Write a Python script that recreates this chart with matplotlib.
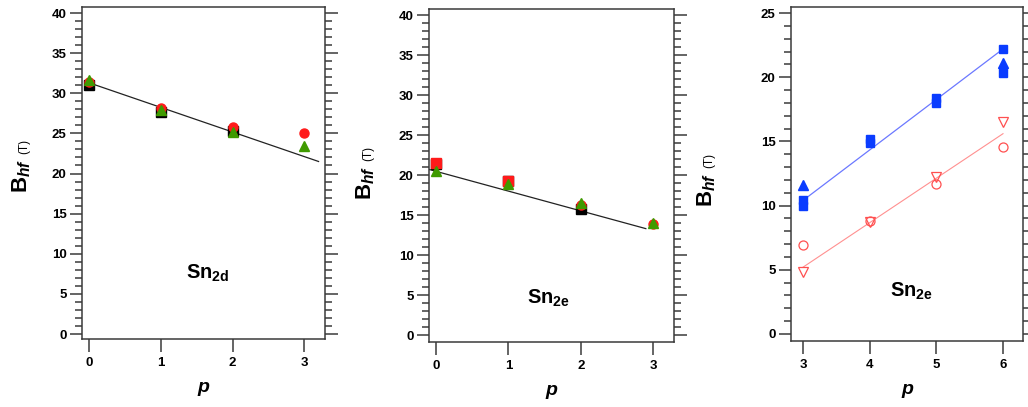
import matplotlib
matplotlib.use("Agg")
import matplotlib.pyplot as plt
from matplotlib.ticker import MultipleLocator

plt.rcParams['font.family'] = ['Liberation Sans', 'DejaVu Sans']
plt.rcParams['font.weight'] = 'bold'
plt.rcParams['mathtext.fontset'] = 'custom'
plt.rcParams['mathtext.rm'] = 'Liberation Sans:bold'
plt.rcParams['mathtext.bf'] = 'Liberation Sans:bold'
plt.rcParams['mathtext.it'] = 'Liberation Sans:italic:bold'

# Sn2d site, p = 0..3
p_d = [0, 1, 2, 3]
sn2d_black = [31.0, 27.7, 25.3]
sn2d_red = [31.4, 28.2, 25.8, 25.0]
sn2d_green = [31.6, 27.9, 25.2, 23.4]
sn2d_fit_p = [0.0, 3.2]
sn2d_fit_b = [31.3, 21.5]

# Sn2e site, p = 0..3
p_e = [0, 1, 2, 3]
sn2e_black = [21.4, 19.3, 15.8]
sn2e_red_sq = [21.5, 19.2]
sn2e_red_ci = [16.3, 13.9]
sn2e_green = [20.5, 18.9, 16.5, 14.0]
sn2e_fit_p = [-0.1, 2.9]
sn2e_fit_b = [20.7, 13.3]

# Sn2e site, p = 3..6
p_hi = [3, 4, 5, 6]
blue_sq_a = [10.0, 14.9, 18.0, 22.2]
blue_sq_b = [10.4, 15.2, 18.4, 20.3]
blue_tri = [11.6, 21.1]
blue_tri_p = [3, 6]
red_circle = [6.9, 8.8, 11.7, 14.6]
red_vtri = [4.8, 8.75, 12.2, 16.5]
blue_fit_b = [10.4, 22.2]
red_fit_b = [5.2, 15.6]
fit_hi_p = [3, 6]

W, H = 1028, 407
fig = plt.figure(figsize=(W / 100, H / 100), dpi=100)


def box(l, r, t, b):
    return [l / W, (H - b) / H, (r - l) / W, (b - t) / H]


def style(ax, xticks, ymaj):
    for s in ax.spines.values():
        s.set_linewidth(1.1)
        s.set_color('#3a3a3a')
    ax.set_xticks(xticks)
    ax.yaxis.set_major_locator(MultipleLocator(ymaj))
    ax.yaxis.set_minor_locator(MultipleLocator(1))
    ax.tick_params(axis='y', which='both', direction='out', left=True, right=True,
                   labelright=False, color='#3a3a3a', width=1.1, labelsize=9.5, pad=2)
    ax.tick_params(axis='y', which='major', length=9)
    ax.tick_params(axis='y', which='minor', length=5)
    ax.tick_params(axis='x', which='major', direction='out', length=9, width=1.1,
                   color='#3a3a3a', labelsize=9.5, pad=4)
    ax.set_xlabel('p', fontsize=14, fontstyle='italic', fontweight='bold', labelpad=7)


red = '#ff1a1a'
green = '#3f9a00'

ax1 = fig.add_axes(box(82, 325, 7, 339))
ax1.plot(sn2d_fit_p, sn2d_fit_b, color='#222222', lw=0.9)
ax1.plot(p_d[:3], sn2d_black, 's', color='black', ms=6.5)
ax1.plot(p_d, sn2d_red, 'o', color=red, ms=6.5)
ax1.plot(p_d, sn2d_green, '^', color=green, ms=7)
ax1.set_xlim(-0.1, 3.29)
ax1.set_ylim(-0.62, 40.75)
style(ax1, p_d, 5)
ax1.text(1.65, 7.6, r'Sn$_{\mathbf{2d}}$', fontsize=14.5, fontweight='bold', ha='center', va='center')

ax2 = fig.add_axes(box(429, 674, 9, 342))
ax2.plot(sn2e_fit_p, sn2e_fit_b, color='#222222', lw=0.9)
ax2.plot(p_e[:3], sn2e_black, 's', color='black', ms=6.5)
ax2.plot(p_e[:2], sn2e_red_sq, 's', color=red, ms=6.5)
ax2.plot(p_e[2:], sn2e_red_ci, 'o', color=red, ms=6.5)
ax2.plot(p_e, sn2e_green, '^', color=green, ms=7)
ax2.set_xlim(-0.1, 3.29)
ax2.set_ylim(-0.87, 40.75)
style(ax2, p_e, 5)
ax2.text(1.55, 4.6, r'Sn$_{\mathbf{2e}}$', fontsize=14.5, fontweight='bold', ha='center', va='center')

blue = '#0a3cff'
ax3 = fig.add_axes(box(791, 1023, 7, 341))
ax3.plot(fit_hi_p, blue_fit_b, color='#6b78ff', lw=0.9)
ax3.plot(fit_hi_p, red_fit_b, color='#ff9090', lw=0.8)
ax3.plot(p_hi, blue_sq_a, 's', color=blue, ms=6)
ax3.plot(p_hi, blue_sq_b, 's', color=blue, ms=6)
ax3.plot(blue_tri_p, blue_tri, '^', color=blue, ms=6.5)
ax3.plot(p_hi, red_circle, 'o', mfc='none', mec='#ff5050', mew=0.9, ms=6.5)
ax3.plot(p_hi, red_vtri, 'v', mfc='none', mec='#ff5050', mew=0.9, ms=7)
ax3.set_xlim(2.82, 6.3)
ax3.set_ylim(-0.55, 25.47)
style(ax3, p_hi, 5)
ax3.text(4.63, 3.3, r'Sn$_{\mathbf{2e}}$', fontsize=14.5, fontweight='bold', ha='center', va='center')

# field axis labels: B_hf with a small (T) above it
for bx, by, tx, ty in [(22, 176, 24, 146), (366, 183, 368, 153), (707, 190, 709, 160)]:
    fig.text(bx / W, 1 - by / H, r'B$_{\mathit{hf}}$', fontsize=16, fontweight='bold',
             rotation=90, ha='center', va='center')
    fig.text(tx / W, 1 - ty / H, '(T)', fontsize=8.5, fontweight='normal',
             rotation=90, ha='center', va='center')

fig.savefig('out.png', dpi=100)
